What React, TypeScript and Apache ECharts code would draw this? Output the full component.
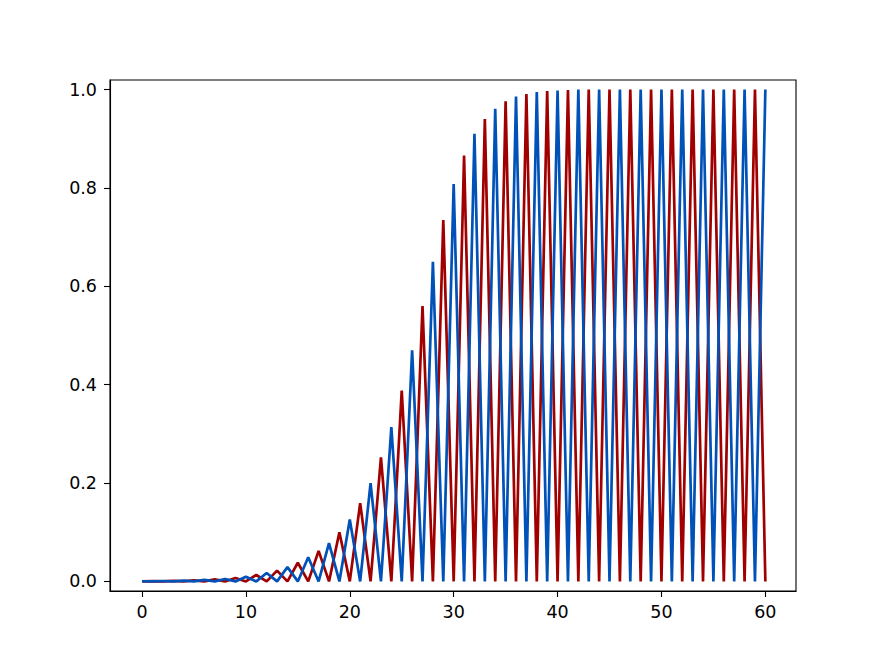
import React, { useEffect, useRef } from "react";
import * as echarts from "echarts";

const xValues: number[] = Array.from({ length: 61 }, (_, i) => i);

const redValues: number[] = [
  0, 0.0005, 0, 0.001, 0, 0.002, 0, 0.004, 0, 0.007,
  0, 0.013, 0, 0.022, 0, 0.038, 0, 0.062, 0, 0.1,
  0, 0.159, 0, 0.252, 0, 0.388, 0, 0.56, 0, 0.735,
  0, 0.866, 0, 0.94, 0, 0.976, 0, 0.991, 0, 0.997,
  0, 0.999, 0, 1.0, 0, 1.0, 0, 1.0, 0, 1.0,
  0, 1.0, 0, 1.0, 0, 1.0, 0, 1.0, 0, 1.0,
  0,
];

const blueValues: number[] = [
  0.0003, 0, 0.0008, 0, 0.0015, 0, 0.003, 0, 0.005, 0,
  0.0095, 0, 0.017, 0, 0.029, 0, 0.049, 0, 0.078, 0,
  0.126, 0, 0.2, 0, 0.314, 0, 0.47, 0, 0.65, 0,
  0.808, 0, 0.91, 0, 0.961, 0, 0.986, 0, 0.995, 0,
  0.998, 0, 1.0, 0, 1.0, 0, 1.0, 0, 1.0, 0,
  1.0, 0, 1.0, 0, 1.0, 0, 1.0, 0, 1.0, 0,
  1.0,
];

const xTicks: number[] = [0, 10, 20, 30, 40, 50, 60];
const yTicks: number[] = [0, 0.2, 0.4, 0.6, 0.8, 1.0];

export default function App() {
  const ref = useRef<HTMLDivElement>(null);
  useEffect(() => {
    document.body.style.margin = "0";
    if (!ref.current) return;
    const chart = echarts.init(ref.current, null, { renderer: "svg" });
    const font = { fontFamily: "DejaVu Sans", fontSize: 17.5, color: "#000" };
    chart.setOption({
      animation: false,
      backgroundColor: "#fff",
      grid: {
        left: 110,
        top: 80,
        right: 89,
        bottom: 73,
        show: true,
        borderColor: "#000",
        borderWidth: 1.1,
        backgroundColor: "transparent",
      },
      xAxis: {
        type: "value",
        min: -3.08,
        max: 62.95,
        axisLine: { show: true, onZero: false, lineStyle: { color: "#000", width: 1.1 } },
        axisTick: { show: true, inside: false, length: 6, customValues: xTicks, lineStyle: { color: "#000", width: 1.1 } },
        axisLabel: { ...font, margin: 12, customValues: xTicks, formatter: (v: number) => String(v) },
        splitLine: { show: false },
      },
      yAxis: {
        type: "value",
        min: -0.0195,
        max: 1.0195,
        axisLine: { show: true, onZero: false, lineStyle: { color: "#000", width: 1.1 } },
        axisTick: { show: true, inside: false, length: 6, customValues: yTicks, lineStyle: { color: "#000", width: 1.1 } },
        axisLabel: { ...font, margin: 13, customValues: yTicks, formatter: (v: number) => v.toFixed(1) },
        splitLine: { show: false },
      },
      series: [
        {
          type: "line",
          data: xValues.map((x, i) => [x, redValues[i]]),
          showSymbol: false,
          lineStyle: { color: "#a00000", width: 2.7 },
          itemStyle: { color: "#a00000" },
        },
        {
          type: "line",
          data: xValues.map((x, i) => [x, blueValues[i]]),
          showSymbol: false,
          lineStyle: { color: "#0052b8", width: 2.7 },
          itemStyle: { color: "#0052b8" },
        },
      ],
    });
    return () => chart.dispose();
  }, []);
  return <div ref={ref} style={{ width: 885, height: 664 }} />;
}
